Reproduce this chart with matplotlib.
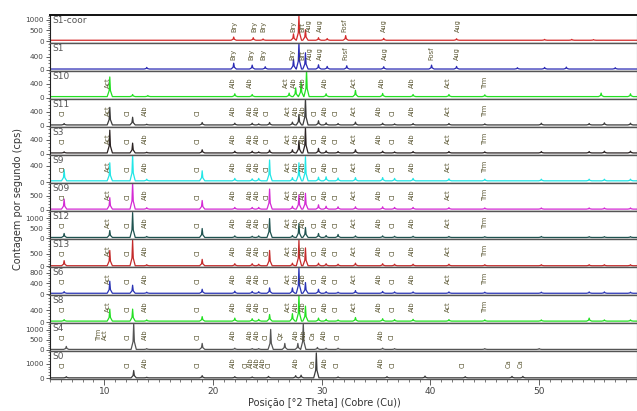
import matplotlib
matplotlib.use('Agg')
import matplotlib.pyplot as plt
from matplotlib.ticker import MultipleLocator

# sample order, top to bottom
samples = ['S1-coor', 'S1', 'S10', 'S11', 'S3', 'S9', 'S09', 'S12', 'S13', 'S6', 'S8', 'S4', 'S0']
colors = ['#d42a2a', '#2a2ab4', '#22e022', '#3c3c3c', '#2c2424', '#22e6e6', '#d42ad4',
          '#1f5350', '#c42a2a', '#2a34b4', '#22e022', '#555555', '#3c3c3c']
ylims = [(-90, 1230), (-31, 830), (-29, 770), (-29, 770), (-29, 770), (-25, 675), (-36, 940),
         (-48, 1360), (-20, 1080), (-35, 1010), (-33, 900), (-50, 1350), (-50, 1860)]
yticks = [[0, 500, 1000], [0, 400], [0, 400], [0, 400], [0, 400], [0, 400], [0, 500],
          [0, 500, 1000], [0, 500], [0, 400, 800], [0, 400], [0, 500, 1000], [0, 1000]]
yminor = [100, 100, 100, 100, 100, 100, 100, 100, 100, 100, 100, 100, 200]
baseline = [40, 30, 40, 30, 30, 30, 30, 30, 30, 30, 30, 30, 30]

# S1-coor
s1coor_pos = [21.9, 23.7, 24.6, 27.4, 27.9, 28.5, 29.7, 30.5, 32.2, 35.7, 42.4, 50.5, 53.0, 55.0]
s1coor_h = [150, 120, 60, 300, 1150, 500, 120, 80, 220, 90, 70, 40, 40, 30]
s1coor_lab_pos = [22.0, 23.8, 24.6, 27.4, 28.2, 28.8, 29.8, 32.1, 35.7, 42.5]
s1coor_lab_txt = ['Bry', 'Bry', 'Bry', 'Bry', 'Brt', 'Aug', 'Aug', 'Fosf', 'Aug', 'Aug']

# S1
s1_pos = [13.9, 21.9, 23.6, 24.8, 27.4, 27.9, 28.5, 29.7, 30.5, 32.3, 35.7, 40.1, 42.4, 48.0, 50.5, 52.5, 57.0]
s1_h = [50, 180, 120, 70, 300, 800, 500, 130, 80, 100, 70, 120, 80, 40, 50, 60, 40]
s1_lab_pos = [21.9, 23.5, 24.6, 27.3, 28.2, 28.9, 29.8, 32.2, 35.8, 40.1, 42.4]
s1_lab_txt = ['Bry', 'Bry', 'Bry', 'Bry', 'Brt', 'Aug', 'Aug', 'Fosf', 'Aug', 'Fosf', 'Aug']

# S10
s10_pos = [10.5, 12.6, 14.0, 22.0, 23.6, 27.0, 27.6, 28.1, 28.6, 30.4, 33.1, 35.6, 38.4, 41.7, 45.0, 55.7, 58.4]
s10_h = [560, 60, 30, 80, 60, 100, 250, 420, 750, 80, 180, 90, 60, 60, 50, 100, 80]
s10_lab_pos = [10.3, 21.8, 23.4, 26.7, 27.4, 28.3, 30.3, 33.0, 35.5, 38.3, 41.6, 45.0]
s10_lab_txt = ['Act', 'Alb', 'Alb', 'Act', 'Alb', 'Alb', 'Alb', 'Act', 'Alb', 'Alb', 'Act', 'Trm']

# chlorite / actinolite / albite group (S11, S3, S9, S09, S12, S13, S6, S8)
grp_pos = [6.3, 10.5, 12.6, 13.9, 19.0, 22.0, 23.6, 24.2, 25.2, 27.3, 27.9, 28.5, 29.7, 30.4,
           31.5, 33.1, 35.6, 36.7, 38.4, 41.7, 45.0, 50.2, 54.6, 56.0, 58.4]
s11_h = [40, 500, 220, 20, 70, 50, 50, 30, 70, 80, 300, 750, 120, 60, 40, 80, 50, 30, 40, 40, 30, 50, 40, 60, 50]
s3_h = [30, 650, 280, 20, 90, 50, 50, 30, 80, 90, 350, 720, 130, 60, 40, 90, 50, 30, 40, 40, 30, 40, 40, 50, 50]
s9_h = [280, 450, 650, 40, 250, 60, 50, 60, 520, 80, 450, 600, 90, 100, 70, 80, 80, 60, 60, 50, 40, 40, 40, 40, 40]
s09_h = [350, 400, 930, 50, 300, 60, 60, 60, 700, 100, 500, 550, 150, 100, 80, 80, 80, 60, 60, 50, 40, 40, 40, 40, 40]
s12_h = [200, 350, 1250, 50, 450, 80, 60, 80, 950, 100, 700, 500, 200, 100, 150, 80, 80, 60, 60, 50, 40, 50, 40, 40, 40]
s13_h = [200, 600, 1000, 40, 250, 80, 80, 60, 600, 100, 1000, 700, 100, 80, 60, 100, 80, 60, 60, 60, 40, 40, 40, 40, 40]
s6_h = [60, 450, 300, 40, 150, 80, 70, 60, 200, 200, 950, 400, 150, 60, 40, 100, 70, 50, 50, 50, 40, 40, 50, 50, 40]
s8_h = [50, 400, 400, 40, 150, 100, 80, 60, 220, 250, 850, 500, 100, 60, 40, 120, 80, 50, 60, 50, 40, 40, 100, 40, 40]
grp_lab_pos = [6.2, 10.3, 12.1, 13.7, 18.6, 21.8, 23.4, 24.0, 24.9, 26.9, 27.6, 28.3, 29.3, 30.3,
               31.3, 33.0, 35.3, 36.5, 38.3, 41.6, 45.0]
grp_lab_txt = ['Cl', 'Act', 'Cl', 'Alb', 'Cl', 'Alb', 'Alb', 'Alb', 'Cl', 'Act', 'Alb', 'Alb', 'Cl', 'Alb',
               'Cl', 'Act', 'Alb', 'Cl', 'Alb', 'Act', 'Trm']

# S4
s4_pos = [6.5, 12.7, 13.9, 19.0, 22.0, 23.6, 24.2, 25.3, 26.6, 27.8, 28.3, 29.6, 30.4, 31.5, 35.6, 36.7, 45.0, 50.0]
s4_h = [150, 1300, 40, 300, 60, 40, 40, 1000, 300, 300, 1300, 100, 60, 60, 60, 40, 40, 40]
s4_lab_pos = [6.2, 9.5, 10.1, 12.1, 13.7, 18.6, 21.8, 23.4, 24.0, 24.8, 26.2, 27.6, 28.4, 29.2, 30.2, 31.5, 35.4, 36.4]
s4_lab_txt = ['Cl', 'Trm', 'Act', 'Cl', 'Alb', 'Cl', 'Alb', 'Alb', 'Alb', 'Cl', 'Qz', 'Alb', 'Alb', 'Ca', 'Alb', 'Cl', 'Alb', 'Cl']

# S0
s0_pos = [6.5, 12.7, 13.9, 19.0, 22.0, 23.6, 25.1, 27.6, 28.1, 29.5, 31.5, 36.0, 39.5, 43.2, 47.5, 48.5]
s0_h = [80, 500, 40, 150, 80, 60, 100, 150, 180, 1700, 60, 80, 120, 80, 100, 100]
s0_lab_pos = [6.2, 12.1, 13.7, 18.6, 21.8, 23.0, 23.5, 24.0, 24.6, 25.1, 27.6, 29.2, 30.3, 31.4, 35.4, 36.5, 43.0, 47.2, 48.3]
s0_lab_txt = ['Cl', 'Cl', 'Alb', 'Cl', 'Alb', 'Cl', 'Alb', 'Alb', 'Alb', 'Cl', 'Alb', 'Ca', 'Alb', 'Cl', 'Alb', 'Cl', 'Cl', 'Ca', 'Ca']

peaks = [(s1coor_pos, s1coor_h), (s1_pos, s1_h), (s10_pos, s10_h), (grp_pos, s11_h), (grp_pos, s3_h),
         (grp_pos, s9_h), (grp_pos, s09_h), (grp_pos, s12_h), (grp_pos, s13_h), (grp_pos, s6_h),
         (grp_pos, s8_h), (s4_pos, s4_h), (s0_pos, s0_h)]
labels = [(s1coor_lab_pos, s1coor_lab_txt), (s1_lab_pos, s1_lab_txt), (s10_lab_pos, s10_lab_txt)] + \
         [(grp_lab_pos, grp_lab_txt)] * 8 + [(s4_lab_pos, s4_lab_txt), (s0_lab_pos, s0_lab_txt)]


def trace(pos, h, base, w=0.12):
    xs = [5.0]
    ys = [base]
    for p, hh in sorted(zip(pos, h)):
        xs += [p - 2 * w, p - 0.5 * w, p, p + 0.5 * w, p + 2 * w]
        ys += [base, base + 0.3 * hh, base + hh, base + 0.3 * hh, base]
    xs.append(60.0)
    ys.append(base)
    return xs, ys


fig = plt.figure(figsize=(6.37, 4.11), dpi=100)
left = 50 / 637
width = 1 - left
top = 1 - 15 / 411
bottom = 1 - 379 / 411
n = len(samples)
ph = (top - bottom) / n

for i, name in enumerate(samples):
    ax = fig.add_axes([left, top - (i + 1) * ph, width, ph])
    xs, ys = trace(peaks[i][0], peaks[i][1], baseline[i])
    ax.plot(xs, ys, color=colors[i], lw=0.9)
    ax.set_xlim(5, 59)
    ax.set_ylim(*ylims[i])
    ax.set_yticks(yticks[i])
    ax.yaxis.set_minor_locator(MultipleLocator(yminor[i]))
    ax.xaxis.set_major_locator(MultipleLocator(10))
    ax.xaxis.set_minor_locator(MultipleLocator(1))
    ax.tick_params(axis='y', which='major', length=3, width=0.6, labelsize=5.2, colors='#444444', pad=1.5)
    ax.tick_params(axis='y', which='minor', length=1.5, width=0.5, colors='#444444')
    for s in ['top', 'bottom']:
        ax.spines[s].set_color('#555555')
        ax.spines[s].set_linewidth(1.0)
    ax.spines['left'].set_color('#222222')
    ax.spines['right'].set_color('#555555')
    if i == 0:
        ax.spines['top'].set_color('#111111')
        ax.spines['top'].set_linewidth(1.4)
    if i < n - 1:
        ax.tick_params(axis='x', which='both', bottom=False, labelbottom=False)
    else:
        ax.tick_params(axis='x', which='major', length=4, width=0.6, labelsize=6.5, colors='#444444', pad=2)
        ax.tick_params(axis='x', which='minor', length=2, width=0.5, colors='#444444')
    ax.text(0.004, 0.96, name, transform=ax.transAxes, ha='left', va='top', fontsize=6.5, color='#555555')
    lp, lt = labels[i]
    for p, t in zip(lp, lt):
        ax.text(p, ylims[i][0] + 0.38 * (ylims[i][1] - ylims[i][0]), t, rotation=90, ha='center', va='bottom',
                fontsize=4.8, color='#5a5632')

fig.text(0.028, 0.515, 'Contagem por segundo (cps)', rotation=90, ha='center', va='center', fontsize=7, color='#333333')
fig.text(0.51, 0.008, 'Posição [°2 Theta] (Cobre (Cu))', ha='center', va='bottom', fontsize=7, color='#333333')

fig.savefig('out.png', dpi=100)
